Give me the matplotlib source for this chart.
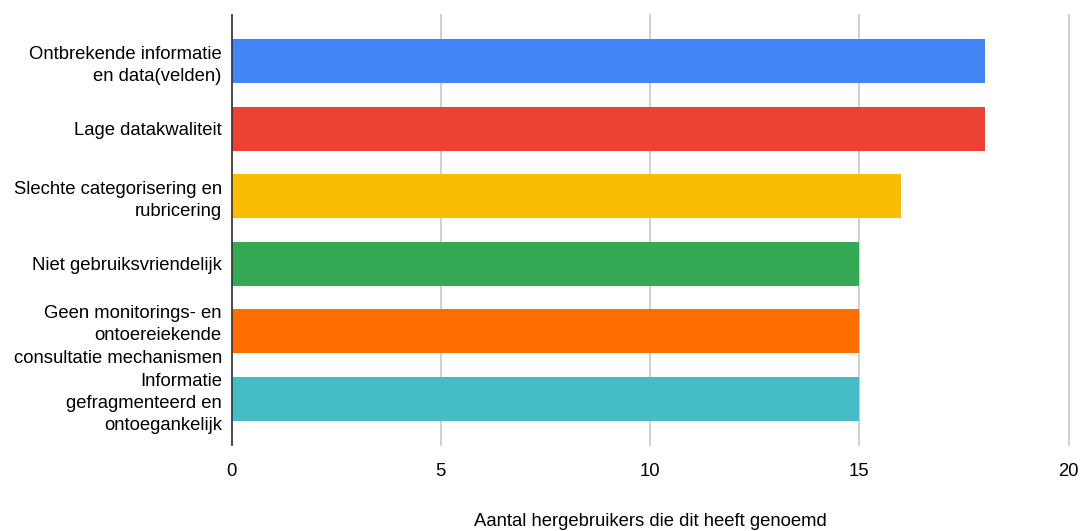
import matplotlib.pyplot as plt
import numpy as np

plt.rcParams['font.family'] = ['Liberation Sans', 'DejaVu Sans']

# gegevens
categorieen = [
    "Ontbrekende informatie\nen data(velden)",
    "Lage datakwaliteit",
    "Slechte categorisering en\nrubricering",
    "Niet gebruiksvriendelijk",
    "Geen monitorings- en\nontoereiekende\nconsultatie mechanismen",
    "Informatie\ngefragmenteerd en\nontoegankelijk",
]
aantallen = [18, 18, 16, 15, 15, 15]
kleuren = ["#4285F4", "#EA4335", "#FBBC04", "#34A853", "#FF6D01", "#46BDC6"]
xticks = [0, 5, 10, 15, 20]

fig = plt.figure(figsize=(10.83, 5.31), dpi=100)
ax = fig.add_axes([0.2138, 0.162, 0.7730, 0.8098])

y = np.arange(len(categorieen))
ax.barh(y, aantallen, height=0.65, color=kleuren, zorder=3)

ax.set_xlim(0, 20)
ax.set_ylim(len(categorieen) - 1 + 0.68, -0.68)
ax.set_xticks(xticks)
ax.set_yticks(y)
ax.set_yticklabels(categorieen, fontsize=13.3, linespacing=1.4)

# rasterlijnen
ax.grid(axis='x', color='#cccccc', linewidth=1.3, zorder=0)
for line in ax.get_xgridlines():
    line.set_clip_on(False)
ax.set_axisbelow(True)
for s in ['top', 'right', 'bottom']:
    ax.spines[s].set_visible(False)
ax.spines['left'].set_color('#333333')
ax.spines['left'].set_linewidth(1.2)
ax.spines['left'].set_zorder(4)

ax.tick_params(axis='y', length=0, pad=7)
ax.tick_params(axis='x', length=0, pad=13, labelsize=13.3)

ax.set_xlabel("Aantal hergebruikers die dit heeft genoemd", fontsize=13.3, labelpad=24)

fig.savefig("out.png", dpi=100)
